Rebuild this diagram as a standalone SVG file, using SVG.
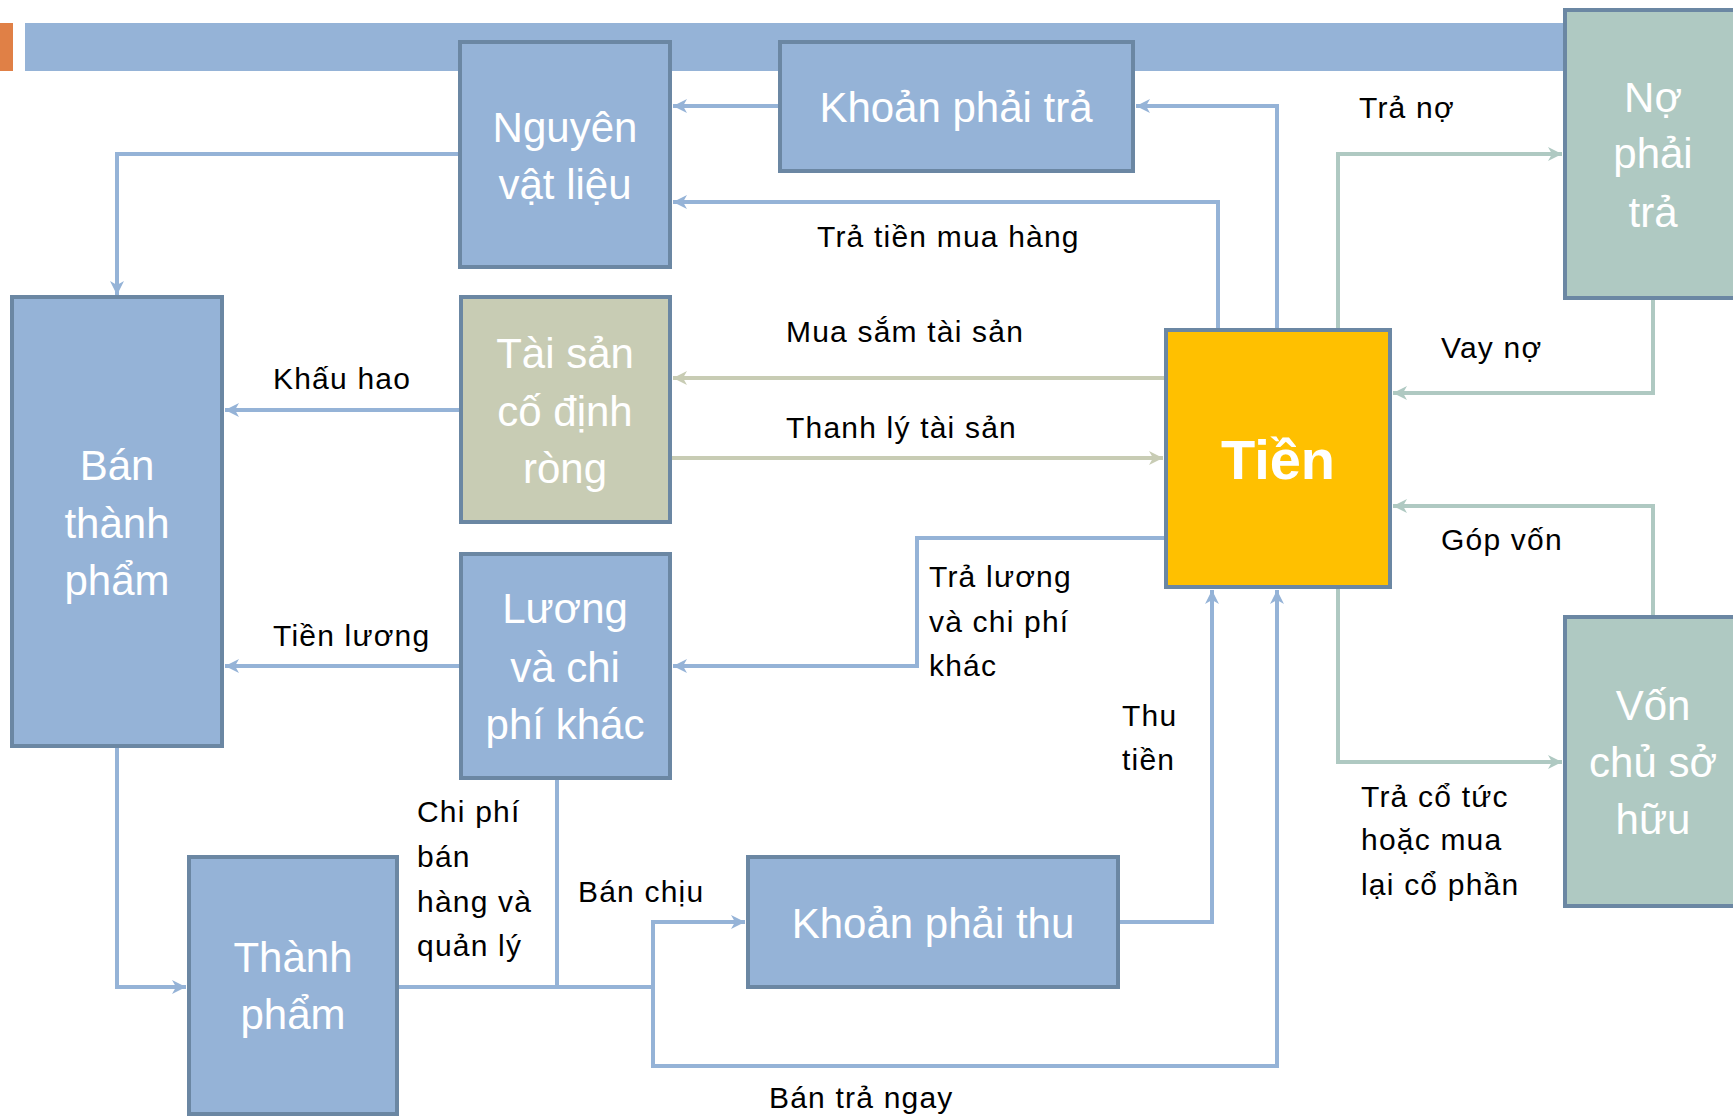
<svg xmlns="http://www.w3.org/2000/svg" width="1733" height="1116" viewBox="0 0 1733 1116">
<style>
.box{stroke:#6B87A3;stroke-width:4}
.blue{fill:#95B3D7}
.khaki{fill:#C8CCB4}
.green{fill:#AFC9C2}
.cash{fill:#FFC000}
.nt{font-family:"Liberation Sans",Arial,sans-serif;font-size:42px;fill:#FFFFFF;text-anchor:middle}
.lb{font-family:"Liberation Sans",Arial,sans-serif;font-size:30px;letter-spacing:1.2px;fill:#000000}
.c{fill:none;stroke-width:4;stroke-linejoin:miter}
.cb{stroke:#95B3D7}
.ck{stroke:#C8CCB4}
.cg{stroke:#AFC9C2}
</style>
<defs>
<marker id="ab" viewBox="0 0 16 16" refX="15" refY="8" markerWidth="16" markerHeight="16" markerUnits="userSpaceOnUse" orient="auto"><path d="M1,1 L15,8 L1,15 L5,8 Z" fill="#95B3D7"/></marker>
<marker id="ak" viewBox="0 0 16 16" refX="15" refY="8" markerWidth="16" markerHeight="16" markerUnits="userSpaceOnUse" orient="auto"><path d="M1,1 L15,8 L1,15 L5,8 Z" fill="#C8CCB4"/></marker>
<marker id="ag" viewBox="0 0 16 16" refX="15" refY="8" markerWidth="16" markerHeight="16" markerUnits="userSpaceOnUse" orient="auto"><path d="M1,1 L15,8 L1,15 L5,8 Z" fill="#AFC9C2"/></marker>
</defs>
<rect width="1733" height="1116" fill="#FFFFFF"/>
<g id="header">
<rect x="0" y="23" width="13" height="48" fill="#E08046"/>
<rect x="25" y="23" width="1545" height="48" fill="#95B3D7"/>
</g>
<g id="node-nguyen-vat-lieu">
<rect class="box blue" x="460" y="42" width="210" height="225"/>
<text class="nt" x="565" y="142">Nguyên</text>
<text class="nt" x="565" y="199">vật liệu</text>
</g>
<g id="node-khoan-phai-tra">
<rect class="box blue" x="780" y="42" width="353" height="129"/>
<text class="nt" x="956" y="122">Khoản phải trả</text>
</g>
<g id="node-tai-san">
<rect class="box khaki" x="461" y="297" width="209" height="225"/>
<text class="nt" x="565" y="368">Tài sản</text>
<text class="nt" x="565" y="426">cố định</text>
<text class="nt" x="565" y="483">ròng</text>
</g>
<g id="node-ban-thanh-pham">
<rect class="box blue" x="12" y="297" width="210" height="449"/>
<text class="nt" x="117" y="480">Bán</text>
<text class="nt" x="117" y="538">thành</text>
<text class="nt" x="117" y="595">phẩm</text>
</g>
<g id="node-luong">
<rect class="box blue" x="461" y="554" width="209" height="224"/>
<text class="nt" x="565" y="623">Lương</text>
<text class="nt" x="565" y="682">và chi</text>
<text class="nt" x="565" y="739">phí khác</text>
</g>
<g id="node-thanh-pham">
<rect class="box blue" x="189" y="857" width="208" height="257"/>
<text class="nt" x="293" y="972">Thành</text>
<text class="nt" x="293" y="1029">phẩm</text>
</g>
<g id="node-khoan-phai-thu">
<rect class="box blue" x="748" y="857" width="370" height="130"/>
<text class="nt" x="933" y="938">Khoản phải thu</text>
</g>
<g id="node-tien">
<rect class="box cash" x="1166" y="330" width="224" height="257"/>
<text class="nt" x="1278" y="479" style="font-weight:bold;font-size:56px">Tiền</text>
</g>
<g id="node-no-phai-tra">
<rect class="box green" x="1565" y="10" width="180" height="288"/>
<text class="nt" x="1653" y="112">Nợ</text>
<text class="nt" x="1653" y="168">phải</text>
<text class="nt" x="1653" y="227">trả</text>
</g>
<g id="node-von-chu-so-huu">
<rect class="box green" x="1565" y="617" width="180" height="289"/>
<text class="nt" x="1653" y="720">Vốn</text>
<text class="nt" x="1653" y="777">chủ sở</text>
<text class="nt" x="1653" y="834">hữu</text>
</g>
<g id="connectors">
<path class="c cb" d="M778,106 H673" marker-end="url(#ab)"/>
<path class="c cb" d="M1277,328 V106 H1136" marker-end="url(#ab)"/>
<path class="c cb" d="M1218,328 V202 H673" marker-end="url(#ab)"/>
<path class="c cb" d="M458,154 H117 V295" marker-end="url(#ab)"/>
<path class="c ck" d="M1164,378 H673" marker-end="url(#ak)"/>
<path class="c ck" d="M672,458 H1163" marker-end="url(#ak)"/>
<path class="c cb" d="M459,410 H225" marker-end="url(#ab)"/>
<path class="c cb" d="M459,666 H225" marker-end="url(#ab)"/>
<path class="c cb" d="M1164,538 H917 V666 H673" marker-end="url(#ab)"/>
<path class="c cg" d="M1338,328 V154 H1562" marker-end="url(#ag)"/>
<path class="c cg" d="M1653,300 V393 H1393" marker-end="url(#ag)"/>
<path class="c cg" d="M1653,615 V506 H1393" marker-end="url(#ag)"/>
<path class="c cg" d="M1338,589 V762 H1562" marker-end="url(#ag)"/>
<path class="c cb" d="M117,748 V987 H186" marker-end="url(#ab)"/>
<path class="c cb" d="M557,780 V987"/>
<path class="c cb" d="M399,987 H653"/>
<path class="c cb" d="M653,987 V922 H745" marker-end="url(#ab)"/>
<path class="c cb" d="M653,985 V1066 H1277 V590" marker-end="url(#ab)"/>
<path class="c cb" d="M1120,922 H1212 V590" marker-end="url(#ab)"/>
</g>
<g id="labels">
<text class="lb" x="1359" y="118">Trả nợ</text>
<text class="lb" x="817" y="247">Trả tiền mua hàng</text>
<text class="lb" x="786" y="342">Mua sắm tài sản</text>
<text class="lb" x="786" y="438">Thanh lý tài sản</text>
<text class="lb" x="1441" y="358">Vay nợ</text>
<text class="lb" x="1441" y="550">Góp vốn</text>
<text class="lb" x="273" y="389">Khấu hao</text>
<text class="lb" x="273" y="646">Tiền lương</text>
<text class="lb" x="929" y="587">Trả lương</text>
<text class="lb" x="929" y="632">và chi phí</text>
<text class="lb" x="929" y="676">khác</text>
<text class="lb" x="1122" y="726">Thu</text>
<text class="lb" x="1122" y="770">tiền</text>
<text class="lb" x="1361" y="807">Trả cổ tức</text>
<text class="lb" x="1361" y="850">hoặc mua</text>
<text class="lb" x="1361" y="895">lại cổ phần</text>
<text class="lb" x="417" y="822">Chi phí</text>
<text class="lb" x="417" y="867">bán</text>
<text class="lb" x="417" y="912">hàng và</text>
<text class="lb" x="417" y="956">quản lý</text>
<text class="lb" x="578" y="902">Bán chịu</text>
<text class="lb" x="769" y="1108">Bán trả ngay</text>
</g>
</svg>
